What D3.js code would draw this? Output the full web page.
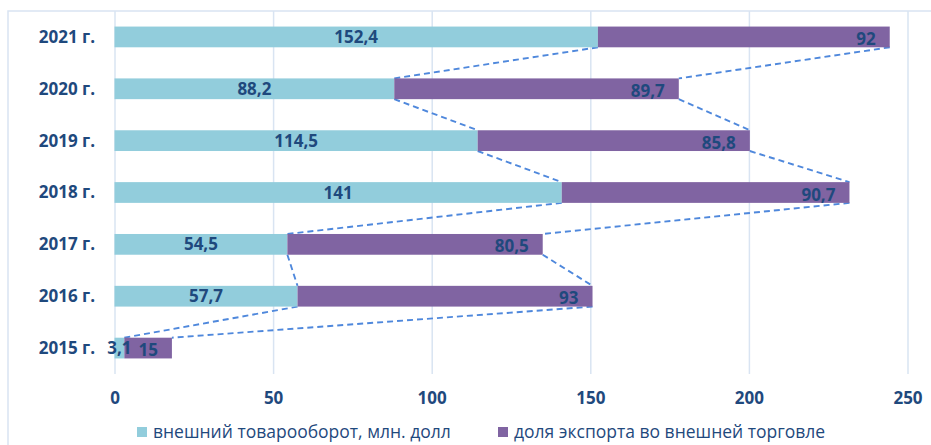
<!DOCTYPE html>
<html>
<head>
<meta charset="utf-8">
<script src="https://cdn.jsdelivr.net/npm/d3@7"></script>
<style>
  body { margin: 0; background: #fff; }
  svg { display: block; font-family: "Open Sans", sans-serif; }
</style>
</head>
<body>
<svg id="chart" width="931" height="445"></svg>
<script>
// data, bottom to top in the original
let years = ['2015 г.', '2016 г.', '2017 г.', '2018 г.', '2019 г.', '2020 г.', '2021 г.'];
let turnover = [3.1, 57.7, 54.5, 141, 114.5, 88.2, 152.4];
let exportShare = [15, 93, 80.5, 90.7, 85.8, 89.7, 92];
let seriesNames = ['внешний товарооборот, млн. долл', 'доля экспорта во внешней торговле'];
let xTicks = [0, 50, 100, 150, 200, 250];

const colors = ['#92cddc', '#8064a2'];
const textColor = '#1f497d';
const gridColor = '#d9e4f2';

const svg = d3.select('#chart');
const plotLeft = 114.5, plotRight = 907.5, plotTop = 11, plotBottom = 374;

// chart border (only top and left fit in the window)
svg.append('rect')
  .attr('x', 8).attr('y', 11)
  .attr('width', 1000).attr('height', 500)
  .attr('fill', 'none')
  .attr('stroke', gridColor)
  .attr('stroke-width', 1.5);

const x = d3.scaleLinear().domain([0, 250]).range([plotLeft, plotRight]);
const y = d3.scaleBand()
  .domain(years.slice().reverse())
  .range([plotTop, plotBottom])
  .paddingInner(0.6)
  .paddingOuter(0.3);

// gridlines + tick labels
const xAxis = svg.append('g')
  .attr('transform', `translate(0,${plotBottom})`)
  .call(d3.axisBottom(x).tickValues(xTicks).tickSize(-(plotBottom - plotTop)).tickPadding(18));
xAxis.select('.domain').remove();
xAxis.selectAll('.tick line').attr('stroke', gridColor).attr('stroke-width', 1.5);
xAxis.selectAll('.tick text')
  .attr('fill', textColor)
  .style('font-size', '17px')
  .style('font-weight', '700')
  .style('font-family', '"Open Sans", sans-serif');

// year labels
svg.append('g')
  .selectAll('text')
  .data(years)
  .join('text')
  .attr('x', 95)
  .attr('y', (d) => y(d) + y.bandwidth() / 2)
  .attr('dy', '0.35em')
  .attr('text-anchor', 'end')
  .text((d) => d)
  .style('font-size', '17px')
  .style('font-weight', '700')
  .style('fill', textColor);

let rows = years.map((yr, i) => ({
  year: yr,
  a: turnover[i],
  b: exportShare[i],
  end1: turnover[i],
  end2: turnover[i] + exportShare[i],
}));

// series lines between neighbouring bars
const lines = [];
for (let i = rows.length - 1; i > 0; i--) {
  const up = rows[i], down = rows[i - 1];
  ['end1', 'end2'].forEach((k) => {
    lines.push({
      x1: x(up[k]), y1: y(up.year) + y.bandwidth(),
      x2: x(down[k]), y2: y(down.year),
    });
  });
}
svg.append('g')
  .selectAll('line')
  .data(lines)
  .join('line')
  .attr('x1', (d) => d.x1).attr('y1', (d) => d.y1)
  .attr('x2', (d) => d.x2).attr('y2', (d) => d.y2)
  .attr('stroke', '#4f88dc')
  .attr('stroke-width', 1.9)
  .attr('stroke-dasharray', '6,4');

// bars
const bars = svg.append('g');
bars.selectAll('rect.s1')
  .data(rows)
  .join('rect')
  .attr('class', 's1')
  .attr('x', x(0))
  .attr('y', (d) => y(d.year))
  .attr('width', (d) => x(d.a) - x(0))
  .attr('height', y.bandwidth())
  .style('fill', colors[0]);
bars.selectAll('rect.s2')
  .data(rows)
  .join('rect')
  .attr('class', 's2')
  .attr('x', (d) => x(d.a))
  .attr('y', (d) => y(d.year))
  .attr('width', (d) => x(d.end2) - x(d.a))
  .attr('height', y.bandwidth())
  .style('fill', colors[1]);

const fmt = (v) => String(v).replace('.', ',');

// labels
svg.append('g')
  .selectAll('text')
  .data(rows)
  .join('text')
  .attr('x', (d) => x(d.a / 2))
  .attr('y', (d) => y(d.year) + y.bandwidth() / 2)
  .attr('dy', '0.36em')
  .attr('text-anchor', 'middle')
  .text((d) => fmt(d.a))
  .style('font-size', '17px')
  .style('font-weight', '700')
  .style('fill', textColor);

svg.append('g')
  .selectAll('text')
  .data(rows)
  .join('text')
  .attr('x', (d) => x(d.end2) - 14)
  .attr('y', (d) => y(d.year) + y.bandwidth() / 2 + 2)
  .attr('dy', '0.36em')
  .attr('text-anchor', 'end')
  .text((d) => fmt(d.b))
  .style('font-size', '17px')
  .style('font-weight', '700')
  .style('fill', textColor);

// legend
const legendX = [137, 498];
const legend = svg.append('g')
  .selectAll('g')
  .data(seriesNames)
  .join('g')
  .attr('transform', (d, i) => `translate(${legendX[i]},427)`);
legend.append('rect')
  .attr('width', 10).attr('height', 10)
  .style('fill', (d, i) => colors[i]);
legend.append('text')
  .attr('x', 16)
  .attr('y', 5)
  .attr('dy', '0.36em')
  .text((d) => d)
  .style('font-size', '17.5px')
  .style('fill', '#1f497d');
</script>
</body>
</html>
